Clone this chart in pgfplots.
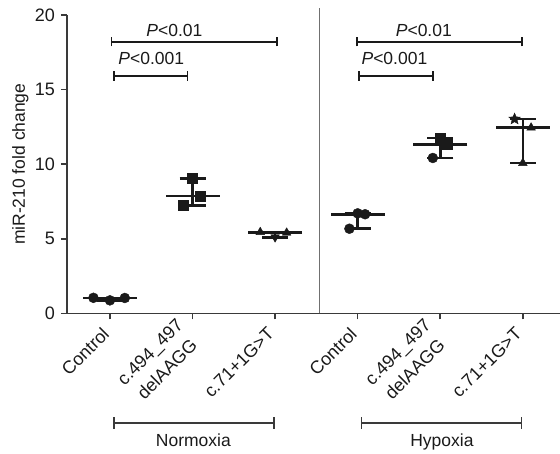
\documentclass[border=0pt]{standalone}
\usepackage{fontspec}
\setmainfont{Liberation Sans}
\usepackage{pgfplots}
\pgfplotsset{compat=1.18}
\definecolor{ink}{HTML}{1A1A1A}
\definecolor{axc}{HTML}{3A3A3A}
\definecolor{sepc}{HTML}{707070}
\pgfdeclareplotmark{fstar}{%
 \pgfpathmoveto{\pgfpointpolar{90}{\pgfplotmarksize}}%
 \pgfpathlineto{\pgfpointpolar{126}{0.45\pgfplotmarksize}}%
 \pgfpathlineto{\pgfpointpolar{162}{\pgfplotmarksize}}%
 \pgfpathlineto{\pgfpointpolar{198}{0.45\pgfplotmarksize}}%
 \pgfpathlineto{\pgfpointpolar{234}{\pgfplotmarksize}}%
 \pgfpathlineto{\pgfpointpolar{270}{0.45\pgfplotmarksize}}%
 \pgfpathlineto{\pgfpointpolar{306}{\pgfplotmarksize}}%
 \pgfpathlineto{\pgfpointpolar{342}{0.45\pgfplotmarksize}}%
 \pgfpathlineto{\pgfpointpolar{18}{\pgfplotmarksize}}%
 \pgfpathlineto{\pgfpointpolar{54}{0.45\pgfplotmarksize}}%
 \pgfpathclose\pgfusepathqfillstroke}
\begin{document}
\fontsize{17.5}{21}\selectfont
\begin{tikzpicture}
\path[use as bounding box] (-67pt,-140.5pt) rectangle (493pt,313.5pt);
\begin{axis}[
  scale only axis, width=493pt, height=298.5pt,
  xmin=0.48, xmax=6.45, ymin=0, ymax=20,
  axis x line*=bottom, axis y line*=left,
  axis line style={line width=1.6pt, axc},
  tick align=outside, major tick length=6pt,
  every tick/.style={line width=1.6pt, axc},
  ytick={0,5,10,15,20},
  xtick={1,2,3,4,5,6},
  xticklabels={Control,{c.494\_497\\delAAGG},{c.71+1G>T},Control,{c.494\_497\\delAAGG},{c.71+1G>T}},
  xticklabel shift=7pt,
  xticklabel style={rotate=45, anchor=east, align=center, text=ink, font=\fontsize{18}{24}\selectfont},
  yticklabel style={text=ink, font=\fontsize{18}{21}\selectfont},
  /pgf/number format/assume math mode=true,
  ylabel={miR-210 fold change},
  ylabel style={at={(axis description cs:-0.0852,0.5)}, anchor=base, text=ink, font=\fontsize{17.5}{21}\selectfont},
  clip=false,
]
% separator
\draw[sepc, line width=1.2pt] (axis cs:3.54,0) -- (axis cs:3.54,20.45);
% median with range
\addplot[ink, only marks, mark=-, mark size=27pt, line width=2.6pt,
  error bars/.cd, y dir=both, y explicit,
  error bar style={line width=2.6pt, ink},
  error mark options={rotate=90, mark size=13pt, line width=2.6pt, ink}]
coordinates {
 (1,1.04) += (0,0.01) -= (0,0.16)
 (2,7.86) += (0,1.19) -= (0,0.61)
 (3,5.41) += (0,0.04) -= (0,0.30)
 (4,6.65) += (0,0.06) -= (0,0.97)
 (5,11.32) += (0,0.43) -= (0,0.90)
 (6,12.45) += (0,0.58) -= (0,2.37)
};
% circles
\addplot[ink, only marks, mark=*, mark size=5pt] coordinates {
 (0.80,1.05) (1.00,0.88) (1.18,1.04)
 (4.00,6.71) (4.09,6.65) (3.90,5.68)
 (4.91,10.42)
};
% squares
\addplot[ink, only marks, mark=square*, mark size=5pt] coordinates {
 (2.00,9.05) (2.09,7.86) (1.89,7.25)
 (5.00,11.75) (5.08,11.32)
};
% triangles
\addplot[ink, only marks, mark=triangle*, mark size=5pt] coordinates {
 (2.82,5.45) (3.14,5.41)
 (6.10,12.45) (6.00,10.08)
};
\addplot[ink, only marks, mark=triangle*, mark size=5pt, mark options={rotate=180}] coordinates {
 (3.00,5.11)
};
\addplot[ink, only marks, mark=fstar, mark size=6pt] coordinates {
 (5.90,13.03)
};
% significance brackets
\draw[ink, line width=1.8pt] (axis cs:1.02,18.21) -- (axis cs:3.02,18.21);
\draw[ink, line width=1.8pt] (axis cs:1.02,17.9) -- (axis cs:1.02,18.52);
\draw[ink, line width=1.8pt] (axis cs:3.02,17.9) -- (axis cs:3.02,18.52);
\node[ink, anchor=base west, inner sep=0pt] at (axis cs:1.44,18.55) {\textit{P}<0.01};
\draw[ink, line width=1.8pt] (axis cs:1.05,15.91) -- (axis cs:1.94,15.91);
\draw[ink, line width=1.8pt] (axis cs:1.05,15.6) -- (axis cs:1.05,16.22);
\draw[ink, line width=1.8pt] (axis cs:1.94,15.6) -- (axis cs:1.94,16.22);
\node[ink, anchor=base west, inner sep=0pt] at (axis cs:1.10,16.65) {\textit{P}<0.001};
\draw[ink, line width=1.8pt] (axis cs:3.99,18.21) -- (axis cs:5.99,18.21);
\draw[ink, line width=1.8pt] (axis cs:3.99,17.9) -- (axis cs:3.99,18.52);
\draw[ink, line width=1.8pt] (axis cs:5.99,17.9) -- (axis cs:5.99,18.52);
\node[ink, anchor=base west, inner sep=0pt] at (axis cs:4.46,18.55) {\textit{P}<0.01};
\draw[ink, line width=1.8pt] (axis cs:4.02,15.91) -- (axis cs:4.91,15.91);
\draw[ink, line width=1.8pt] (axis cs:4.02,15.6) -- (axis cs:4.02,16.22);
\draw[ink, line width=1.8pt] (axis cs:4.91,15.6) -- (axis cs:4.91,16.22);
\node[ink, anchor=base west, inner sep=0pt] at (axis cs:4.045,16.65) {\textit{P}<0.001};
% group brackets
\draw[axc, line width=1.3pt] (axis cs:1.05,-7.34) -- (axis cs:2.985,-7.34);
\draw[axc, line width=1.3pt] (axis cs:1.05,-6.94) -- (axis cs:1.05,-7.74);
\draw[axc, line width=1.3pt] (axis cs:2.985,-6.94) -- (axis cs:2.985,-7.74);
\node[ink, anchor=base, inner sep=0pt] at (axis cs:2.01,-8.92) {Normoxia};
\draw[axc, line width=1.3pt] (axis cs:4.05,-7.34) -- (axis cs:5.985,-7.34);
\draw[axc, line width=1.3pt] (axis cs:4.05,-6.94) -- (axis cs:4.05,-7.74);
\draw[axc, line width=1.3pt] (axis cs:5.985,-6.94) -- (axis cs:5.985,-7.74);
\node[ink, anchor=base, inner sep=0pt] at (axis cs:5.02,-8.92) {Hypoxia};
\end{axis}
\end{tikzpicture}
\end{document}
